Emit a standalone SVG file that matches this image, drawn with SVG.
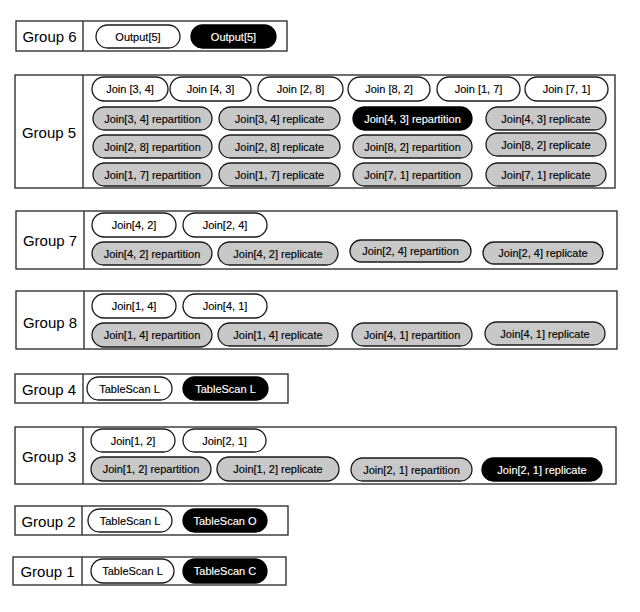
<svg xmlns="http://www.w3.org/2000/svg" width="640" height="612" viewBox="0 0 640 612">
<style>
.box{fill:#fff;stroke:#333;stroke-width:1.4}
.div{stroke:#333;stroke-width:1.4}
.lbl{font-family:"Liberation Sans",Arial,sans-serif;font-size:15px;fill:#000;text-anchor:middle;dominant-baseline:central}
.w{fill:#fff;stroke:#1a1a1a;stroke-width:1.3}
.g{fill:#c8c8c8;stroke:#1a1a1a;stroke-width:1.3}
.b{fill:#000;stroke:#000;stroke-width:1.3}
.t{font-family:"Liberation Sans",Arial,sans-serif;font-size:11px;fill:#000;text-anchor:middle;dominant-baseline:central;stroke:#000;stroke-width:0.15}
.tb{font-family:"Liberation Sans",Arial,sans-serif;font-size:11px;fill:#fff;text-anchor:middle;dominant-baseline:central;stroke:#fff;stroke-width:0.15}
</style>
<rect width="640" height="612" fill="#fff"/>

<g id="group6">
<rect class="box" x="16" y="21" width="271" height="30"/>
<line class="div" x1="83" y1="21" x2="83" y2="51"/>
<text class="lbl" x="49.5" y="36.5">Group 6</text>
<g id="g6-output5-a"><rect class="w" x="96" y="25" width="84" height="23" rx="11.5"/><text class="t" x="138" y="36.5">Output[5]</text></g>
<g id="g6-output5-b"><rect class="b" x="191" y="25" width="85" height="23" rx="11.5"/><text class="tb" x="233.5" y="36.5">Output[5]</text></g>
</g>

<g id="group5">
<rect class="box" x="15" y="75" width="600" height="113"/>
<line class="div" x1="83" y1="75" x2="83" y2="188"/>
<text class="lbl" x="49" y="132">Group 5</text>
<g id="g5-j34"><rect class="w" x="92" y="77" width="76" height="24" rx="12"/><text class="t" x="130" y="89">Join [3, 4]</text></g>
<g id="g5-j43"><rect class="w" x="170" y="77" width="81" height="24" rx="12"/><text class="t" x="210.5" y="89">Join [4, 3]</text></g>
<g id="g5-j28"><rect class="w" x="258" y="77" width="85" height="24" rx="12"/><text class="t" x="300.5" y="89">Join [2, 8]</text></g>
<g id="g5-j82"><rect class="w" x="348" y="77" width="82" height="24" rx="12"/><text class="t" x="389" y="89">Join [8, 2]</text></g>
<g id="g5-j17"><rect class="w" x="437" y="77" width="83" height="24" rx="12"/><text class="t" x="478.5" y="89">Join [1, 7]</text></g>
<g id="g5-j71"><rect class="w" x="525" y="77" width="83" height="24" rx="12"/><text class="t" x="566.5" y="89">Join [7, 1]</text></g>

<g id="g5-j34-rep"><rect class="g" x="93" y="107" width="119" height="23" rx="11.5"/><text class="t" x="152.5" y="118.5">Join[3, 4] repartition</text></g>
<g id="g5-j34-repl"><rect class="g" x="219" y="107" width="121" height="23" rx="11.5"/><text class="t" x="279.5" y="118.5">Join[3, 4] replicate</text></g>
<g id="g5-j43-rep"><rect class="b" x="353" y="107" width="119" height="23" rx="11.5"/><text class="tb" x="412.5" y="118.5">Join[4, 3] repartition</text></g>
<g id="g5-j43-repl"><rect class="g" x="486" y="107" width="120" height="23" rx="11.5"/><text class="t" x="546" y="118.5">Join[4, 3] replicate</text></g>

<g id="g5-j28-rep"><rect class="g" x="93" y="135" width="119" height="23" rx="11.5"/><text class="t" x="152.5" y="146.5">Join[2, 8] repartition</text></g>
<g id="g5-j28-repl"><rect class="g" x="219" y="135" width="121" height="23" rx="11.5"/><text class="t" x="279.5" y="146.5">Join[2, 8] replicate</text></g>
<g id="g5-j82-rep"><rect class="g" x="353" y="135" width="119" height="23" rx="11.5"/><text class="t" x="412.5" y="146.5">Join[8, 2] repartition</text></g>
<g id="g5-j82-repl"><rect class="g" x="486" y="133" width="120" height="23" rx="11.5"/><text class="t" x="546" y="144.5">Join[8, 2] replicate</text></g>

<g id="g5-j17-rep"><rect class="g" x="93" y="163" width="119" height="23" rx="11.5"/><text class="t" x="152.5" y="174.5">Join[1, 7] repartition</text></g>
<g id="g5-j17-repl"><rect class="g" x="219" y="163" width="121" height="23" rx="11.5"/><text class="t" x="279.5" y="174.5">Join[1, 7] replicate</text></g>
<g id="g5-j71-rep"><rect class="g" x="353" y="163" width="119" height="23" rx="11.5"/><text class="t" x="412.5" y="174.5">Join[7, 1] repartition</text></g>
<g id="g5-j71-repl"><rect class="g" x="486" y="163" width="120" height="23" rx="11.5"/><text class="t" x="546" y="174.5">Join[7, 1] replicate</text></g>
</g>

<g id="group7">
<rect class="box" x="16" y="211" width="601" height="58"/>
<line class="div" x1="84" y1="211" x2="84" y2="269"/>
<text class="lbl" x="50" y="240">Group 7</text>
<g id="g7-j42"><rect class="w" x="92" y="213" width="84" height="24" rx="12"/><text class="t" x="134" y="225">Join[4, 2]</text></g>
<g id="g7-j24"><rect class="w" x="183" y="213" width="84" height="24" rx="12"/><text class="t" x="225" y="225">Join[2, 4]</text></g>
<g id="g7-j42-rep"><rect class="g" x="92" y="242" width="120" height="23" rx="11.5"/><text class="t" x="152" y="253.5">Join[4, 2] repartition</text></g>
<g id="g7-j42-repl"><rect class="g" x="218" y="242" width="120" height="23" rx="11.5"/><text class="t" x="278" y="253.5">Join[4, 2] replicate</text></g>
<g id="g7-j24-rep"><rect class="g" x="350" y="240" width="121" height="22" rx="11"/><text class="t" x="410.5" y="251">Join[2, 4] repartition</text></g>
<g id="g7-j24-repl"><rect class="g" x="483" y="242" width="120" height="22" rx="11"/><text class="t" x="543" y="253">Join[2, 4] replicate</text></g>
</g>

<g id="group8">
<rect class="box" x="16" y="291" width="601" height="58"/>
<line class="div" x1="84" y1="291" x2="84" y2="349"/>
<text class="lbl" x="50" y="322">Group 8</text>
<g id="g8-j14"><rect class="w" x="92" y="294" width="84" height="24" rx="12"/><text class="t" x="134" y="306">Join[1, 4]</text></g>
<g id="g8-j41"><rect class="w" x="183" y="294" width="84" height="24" rx="12"/><text class="t" x="225" y="306">Join[4, 1]</text></g>
<g id="g8-j14-rep"><rect class="g" x="92" y="323" width="120" height="24" rx="12"/><text class="t" x="152" y="335">Join[1, 4] repartition</text></g>
<g id="g8-j14-repl"><rect class="g" x="218" y="323" width="120" height="23" rx="11.5"/><text class="t" x="278" y="334.5">Join[1, 4] replicate</text></g>
<g id="g8-j41-rep"><rect class="g" x="352" y="323" width="120" height="23" rx="11.5"/><text class="t" x="412" y="334.5">Join[4, 1] repartition</text></g>
<g id="g8-j41-repl"><rect class="g" x="485" y="322" width="120" height="23" rx="11.5"/><text class="t" x="545" y="333.5">Join[4, 1] replicate</text></g>
</g>

<g id="group4">
<rect class="box" x="15" y="374" width="273" height="29"/>
<line class="div" x1="83" y1="374" x2="83" y2="403"/>
<text class="lbl" x="49" y="389">Group 4</text>
<g id="g4-tsl"><rect class="w" x="87" y="377" width="85" height="23" rx="11.5"/><text class="t" x="129.5" y="388.5">TableScan L</text></g>
<g id="g4-tsl-b"><rect class="b" x="183" y="377" width="85" height="23" rx="11.5"/><text class="tb" x="225.5" y="388.5">TableScan L</text></g>
</g>

<g id="group3">
<rect class="box" x="15" y="427" width="601" height="57"/>
<line class="div" x1="83" y1="427" x2="83" y2="484"/>
<text class="lbl" x="49" y="456">Group 3</text>
<g id="g3-j12"><rect class="w" x="91" y="429" width="84" height="23" rx="11.5"/><text class="t" x="133" y="440.5">Join[1, 2]</text></g>
<g id="g3-j21"><rect class="w" x="183" y="429" width="83" height="23" rx="11.5"/><text class="t" x="224.5" y="440.5">Join[2, 1]</text></g>
<g id="g3-j12-rep"><rect class="g" x="91" y="457" width="120" height="24" rx="12"/><text class="t" x="151" y="469">Join[1, 2] repartition</text></g>
<g id="g3-j12-repl"><rect class="g" x="217" y="457" width="122" height="24" rx="12"/><text class="t" x="278" y="469">Join[1, 2] replicate</text></g>
<g id="g3-j21-rep"><rect class="g" x="351" y="458" width="121" height="23" rx="11.5"/><text class="t" x="411.5" y="469.5">Join[2, 1] repartition</text></g>
<g id="g3-j21-repl"><rect class="b" x="482" y="458" width="120" height="23" rx="11.5"/><text class="tb" x="542" y="469.5">Join[2, 1] replicate</text></g>
</g>

<g id="group2">
<rect class="box" x="15" y="506" width="273" height="29"/>
<line class="div" x1="82" y1="506" x2="82" y2="535"/>
<text class="lbl" x="48.5" y="521">Group 2</text>
<g id="g2-tsl"><rect class="w" x="88" y="509" width="84" height="23" rx="11.5"/><text class="t" x="130" y="520.5">TableScan L</text></g>
<g id="g2-tso"><rect class="b" x="183" y="509" width="84" height="23" rx="11.5"/><text class="tb" x="225" y="520.5">TableScan O</text></g>
</g>

<g id="group1">
<rect class="box" x="13" y="557" width="273" height="28"/>
<line class="div" x1="82" y1="557" x2="82" y2="585"/>
<text class="lbl" x="47.5" y="571.5">Group 1</text>
<g id="g1-tsl"><rect class="w" x="91" y="559" width="83" height="24" rx="12"/><text class="t" x="132.5" y="571">TableScan L</text></g>
<g id="g1-tsc"><rect class="b" x="183" y="559" width="84" height="24" rx="12"/><text class="tb" x="225" y="571">TableScan C</text></g>
</g>

<g id="connectors"/>
</svg>
